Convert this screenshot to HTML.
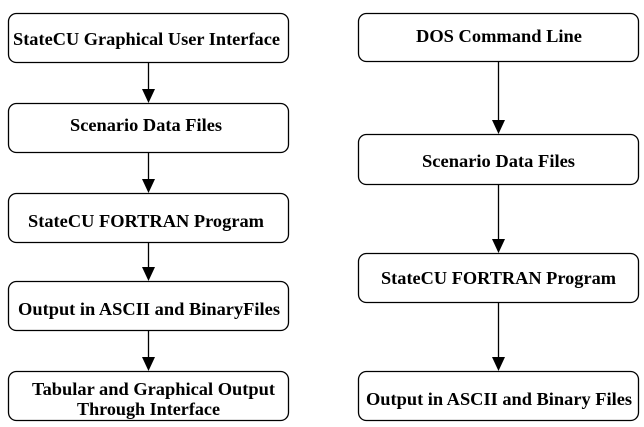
<!DOCTYPE html>
<html><head><meta charset="utf-8"><style>
html,body{margin:0;padding:0;background:#fff;width:644px;height:427px;overflow:hidden}
text{font-family:"Liberation Serif",serif;font-weight:bold;font-size:18px;fill:#000}
</style></head><body>
<svg width="644" height="427" viewBox="0 0 644 427" xmlns="http://www.w3.org/2000/svg">
<g fill="none" stroke="#000" stroke-width="1.3">
<rect x="8.5" y="13.5" width="280" height="49" rx="8"/>
<rect x="8.5" y="103.5" width="280" height="49" rx="8"/>
<rect x="8.5" y="193.5" width="280" height="49" rx="8"/>
<rect x="8.5" y="281.5" width="280" height="49" rx="8"/>
<rect x="8.5" y="371.5" width="280" height="49" rx="8"/>
<rect x="358.5" y="13.5" width="280" height="48" rx="8"/>
<rect x="358.5" y="134.5" width="280" height="50" rx="8"/>
<rect x="358.5" y="253.5" width="280" height="49" rx="8"/>
<rect x="358.5" y="371.5" width="280" height="49" rx="8"/>
<path d="M148.5 63V90M148.5 153V180M148.5 243V268M148.5 331V358M498.5 62V121M498.5 185V240M498.5 303V358"/>
</g>
<g fill="#000">
<path d="M142 89h13l-6.5 14z"/>
<path d="M142 179h13l-6.5 14z"/>
<path d="M142 267h13l-6.5 14z"/>
<path d="M142 357h13l-6.5 14z"/>
<path d="M492 120h13l-6.5 14z"/>
<path d="M492 239h13l-6.5 14z"/>
<path d="M492 357h13l-6.5 14z"/>
</g>
<g lengthAdjust="spacingAndGlyphs">
<text x="13" y="45" textLength="267" lengthAdjust="spacingAndGlyphs">StateCU Graphical User Interface</text>
<text x="70" y="131" textLength="152" lengthAdjust="spacingAndGlyphs">Scenario Data Files</text>
<text x="28" y="227" textLength="236" lengthAdjust="spacingAndGlyphs">StateCU FORTRAN Program</text>
<text x="18" y="315" textLength="262" lengthAdjust="spacingAndGlyphs">Output in ASCII and BinaryFiles</text>
<text x="32" y="395" textLength="243" lengthAdjust="spacingAndGlyphs">Tabular and Graphical Output</text>
<text x="77" y="415" textLength="143" lengthAdjust="spacingAndGlyphs">Through Interface</text>
<text x="416" y="42" textLength="166" lengthAdjust="spacingAndGlyphs">DOS Command Line</text>
<text x="422" y="167" textLength="153" lengthAdjust="spacingAndGlyphs">Scenario Data Files</text>
<text x="381" y="284" textLength="235" lengthAdjust="spacingAndGlyphs">StateCU FORTRAN Program</text>
<text x="366" y="405" textLength="266" lengthAdjust="spacingAndGlyphs">Output in ASCII and Binary Files</text>
</g>
</svg>
</body></html>
